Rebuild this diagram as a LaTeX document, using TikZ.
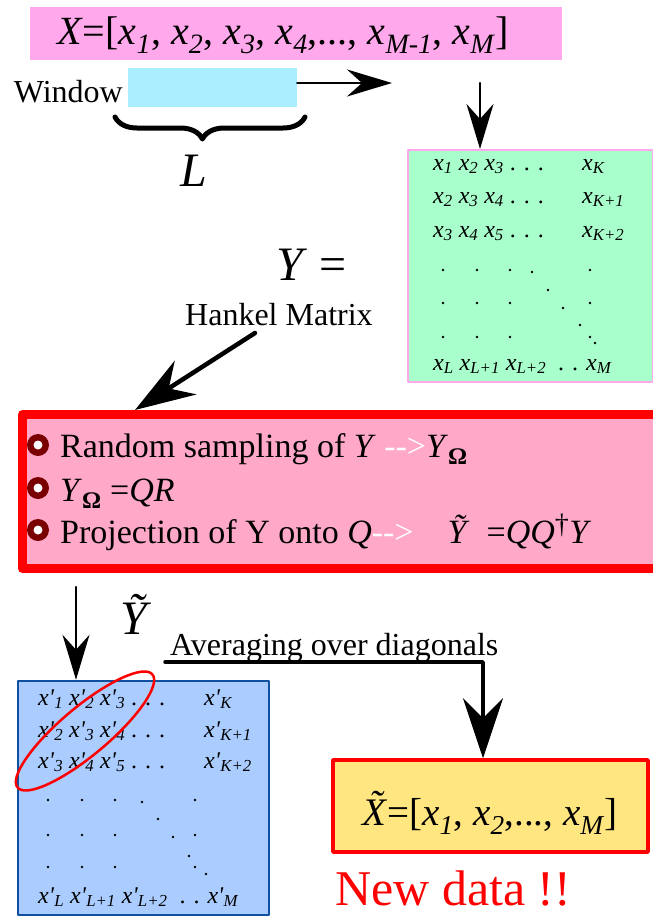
\documentclass[tikz,border=0pt]{standalone}
\usepackage{fontspec}
\setmainfont{Liberation Serif}
\usetikzlibrary{arrows.meta,decorations.pathreplacing}
\definecolor{barpink}{RGB}{255,168,236}
\definecolor{wincyan}{RGB}{170,238,255}
\definecolor{hankgreen}{RGB}{168,255,204}
\definecolor{steppink}{RGB}{255,168,200}
\definecolor{bulletred}{RGB}{122,0,0}
\definecolor{apxblue}{RGB}{170,204,255}
\definecolor{apxedge}{RGB}{16,80,160}
\definecolor{newyellow}{RGB}{255,230,128}
\newcommand{\fsz}[1]{\fontsize{#1}{#1}\selectfont}
\newcommand{\xv}[1]{\textit{x}\textsubscript{\textit{#1}}}
\newcommand{\xq}[1]{\textit{x\textquotesingle}\textsubscript{\textit{#1}}}
\begin{document}
\begin{tikzpicture}[x=1pt,y=-1pt,line cap=round,line join=round,
  txt/.style={inner sep=0pt,anchor=base west},
  cell/.style={inner sep=0pt,anchor=base west,font=\fsz{24}},
  arr/.style={line width=2.5pt,-{Stealth[length=45pt,width=27pt,inset=15pt]}},
  bigarr/.style={line width=3.5pt,-{Stealth[length=60pt,width=40pt,inset=20pt]}}]
  \useasboundingbox (0,0) rectangle (653,916);
  % series and window
  \node[fill=barpink,minimum width=532pt,minimum height=53pt] (series) at (296,33.5) {};
  \node[txt,font=\fsz{40}] (xtext) at (57,44) {\textit{X}=[\xv{1}, \xv{2}, \xv{3}, \xv{4},..., \xv{M-1}, \xv{M}]};
  \node[txt,anchor=base east,font=\fsz{32}] (wlabel) at (123,102) {Window};
  \node[fill=wincyan,minimum width=169pt,minimum height=39pt] (win) at (212.5,87.5) {};
  \coordinate (winend) at (392,83);
  \draw[arr] (win.east |- winend) -- (winend);
  \draw[line width=5pt,decorate,decoration={brace,mirror,amplitude=22pt,aspect=0.46}] (115,117) -- (305,117);
  \node[font=\fsz{48}\itshape,inner sep=0pt] (wlen) at (194,171) {L};
  % hankel matrix
  \node[draw=barpink,line width=2pt,fill=hankgreen,minimum width=245pt,minimum height=232pt] (hankel) at (530.5,266) {};
  \coordinate (hstart) at (480,83);
  \draw[arr] (hstart) -- (hstart |- hankel.north);
  \foreach \a/\b/\c/\d/\yy in {1/2/3/K/170,2/3/4/K+1/203,3/4/5/K+2/237}{
    \node[cell] (g\a) at (433,\yy) {\xv{\a} \xv{\b} \xv{\c} . . .};
    \node[cell] (gk\a) at (582,\yy) {\xv{\d}};}
  \node[cell] (glast) at (433,370) {\xv{L} \xv{L+1} \xv{L+2} \ . . \xv{M}};
  \foreach \px/\py in {443/270,477/270,510/270,443/303,477/303,510/303,443/337,477/337,510/337,
    590/270,590/303,590/337,532/272,548/290,563/308,580/325,595/343}{
    \fill (\px,\py) circle (1.4pt);}
  \node[txt,font=\fsz{48}] (yeq) at (276,280) {\textit{Y} =};
  \node[txt,font=\fsz{32}] (hlabel) at (185,325) {Hankel Matrix};
  % randomized steps
  \node[draw=red,line width=9pt,fill=steppink,minimum width=650pt,minimum height=154pt] (steps) at (347.5,491.5) {};
  \coordinate (hk) at (255,333);
  \coordinate (hktip) at (135,0);
  \draw[bigarr,line width=4.5pt] (hk) -- (hktip |- steps.north);
  \foreach \yy in {445,488,530}{
    \fill[bulletred] (38,\yy) circle (11pt);
    \fill[white] (38,\yy) circle (4.5pt);}
  \node[txt,font=\fsz{34}] (s1) at (60,457) {Random sampling of \textit{Y} {\color{white}-{}->}\textit{Y}\textsubscript{\textbf{Ω}}};
  \node[txt,font=\fsz{34}] (s2) at (60,501) {\textit{Y}\textsubscript{\textbf{Ω}} =\textit{QR}};
  \node[txt,font=\fsz{34}] (s3) at (60,543) {Projection of Y onto \textit{Q}{\color{white}-{}->}\quad\textit{Ỹ}\enspace=\textit{QQ}\textsuperscript{\fsz{28}†}\textit{Y}};
  % approximation
  \node[draw=apxedge,line width=2.5pt,fill=apxblue,minimum width=251pt,minimum height=234pt] (approx) at (143.5,798) {};
  \coordinate (ytop) at (76,587);
  \draw[arr] (ytop) -- (ytop |- approx.north);
  \node[font=\fsz{48},inner sep=0pt] (ylab) at (136,614) {\textit{Ỹ}};
  \foreach \a/\b/\c/\d/\yy in {1/2/3/K/705,2/3/4/K+1/737,3/4/5/K+2/768}{
    \node[cell] (b\a) at (38,\yy) {\xq{\a} \xq{\b} \xq{\c} . . .};
    \node[cell] (bk\a) at (204,\yy) {\xq{\d}};}
  \node[cell] (blast) at (38,903) {\xq{L} \xq{L+1} \xq{L+2} \ . . \xq{M}};
  \foreach \px/\py in {48/800,82/800,115/800,48/835,82/835,115/835,48/867,82/867,115/867,
    195/800,195/835,195/867,142/802,158/819,173/837,189/856,206/874}{
    \fill (\px,\py) circle (1.4pt);}
  \draw[red,line width=2.5pt,rotate around={40:(85,731)}] (85,731) ellipse [x radius=88pt,y radius=24pt];
  % reconstruction
  \node[draw=red,line width=3.5pt,fill=newyellow,minimum width=315pt,minimum height=92pt] (recon) at (490.5,806) {};
  \node[txt,font=\fsz{39}] (rtext) at (362,825) {\textit{\accent"02DC X}=[\xv{1}, \xv{2},..., \xv{M}]};
  \node[txt,font=\fsz{32}] (avglabel) at (170,655) {Averaging over diagonals};
  \coordinate (avg) at (165,662);
  \coordinate (avgx) at (483,0);
  \draw[bigarr] (avg) -- (avg -| avgx) -- (avgx |- recon.north);
  \node[txt,font=\fsz{50},text=red] (newdata) at (335,905) {New data !!};
\end{tikzpicture}
\end{document}
